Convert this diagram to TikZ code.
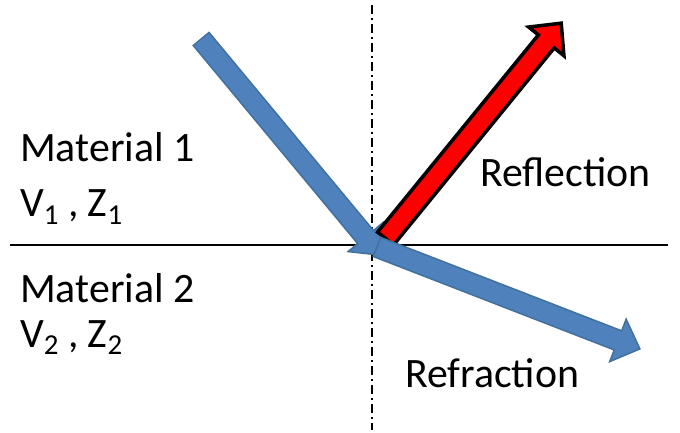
\documentclass[tikz,border=0pt]{standalone}
\usepackage{fontspec}
\setmainfont{Carlito}
\usetikzlibrary{shapes.arrows}

\definecolor{bluefill}{HTML}{4F81BD}
\definecolor{blueedge}{HTML}{41719C}
\newcommand{\matsub}[1]{\raisebox{-0.19em}{\fontsize{29}{29}\selectfont #1}}

\begin{document}
\begin{tikzpicture}[
    x=1bp, y=-1bp,
    font=\fontsize{42}{55}\selectfont,
    %% ── Ray styles ──────────────────────────────────────────────────────
    ray/.style={
        single arrow, inner sep=0pt, inner ysep=9.5bp,
        minimum width=44bp, single arrow head extend=12.5bp,
        single arrow tip angle=88,
    },
    blueray/.style={ray, draw=blueedge, fill=bluefill, line width=1.5bp},
    redray/.style={ray, draw=black, fill=red, line width=3.5bp,
        inner ysep=8.5bp, minimum width=42bp},
    %% ── Line styles ─────────────────────────────────────────────────────
    interface/.style={draw, line width=2bp},
    normal/.style={draw, line width=1.8bp,
        dash pattern=on 9bp off 4bp on 2bp off 4bp},
    lbl/.style={anchor=base west, inner sep=0pt},
]

\useasboundingbox (0,0) rectangle (680,433);

%%─────────────────────────────────────────────────────────────────────────
%% Interface and normal
%%─────────────────────────────────────────────────────────────────────────
\coordinate (ifL) at (10,245);
\coordinate (ifR) at (668,245);
\coordinate (nTop) at (372,5);
\coordinate (nBot) at (372,430);
\path[interface] (ifL) -- (ifR);
\path[normal] (nTop) -- (nBot);

%%─────────────────────────────────────────────────────────────────────────
%% Rays
%%─────────────────────────────────────────────────────────────────────────
\node[blueray, minimum height=281bp, rotate=-50.3] (incident) at (287.5,143) {};
\node[redray,  minimum height=278bp, rotate=50.8]  (reflected) at (470,135) {};
\node[blueray, minimum height=282bp, rotate=-21.2] (refracted) at (503.5,296) {};

%%─────────────────────────────────────────────────────────────────────────
%% Labels
%%─────────────────────────────────────────────────────────────────────────
\node[lbl] (mat1) at (20,162) {Material 1};
\node[lbl] (prop1) at (20,217) {V\matsub{1} , Z\matsub{1}};
\node[lbl] (mat2) at (20,303) {Material 2};
\node[lbl] (prop2) at (20,347) {V\matsub{2} , Z\matsub{2}};
\node[lbl] (reflLbl) at (480,187) {Reflection};
\node[lbl] (refrLbl) at (405,387) {Refraction};

\end{tikzpicture}
\end{document}
